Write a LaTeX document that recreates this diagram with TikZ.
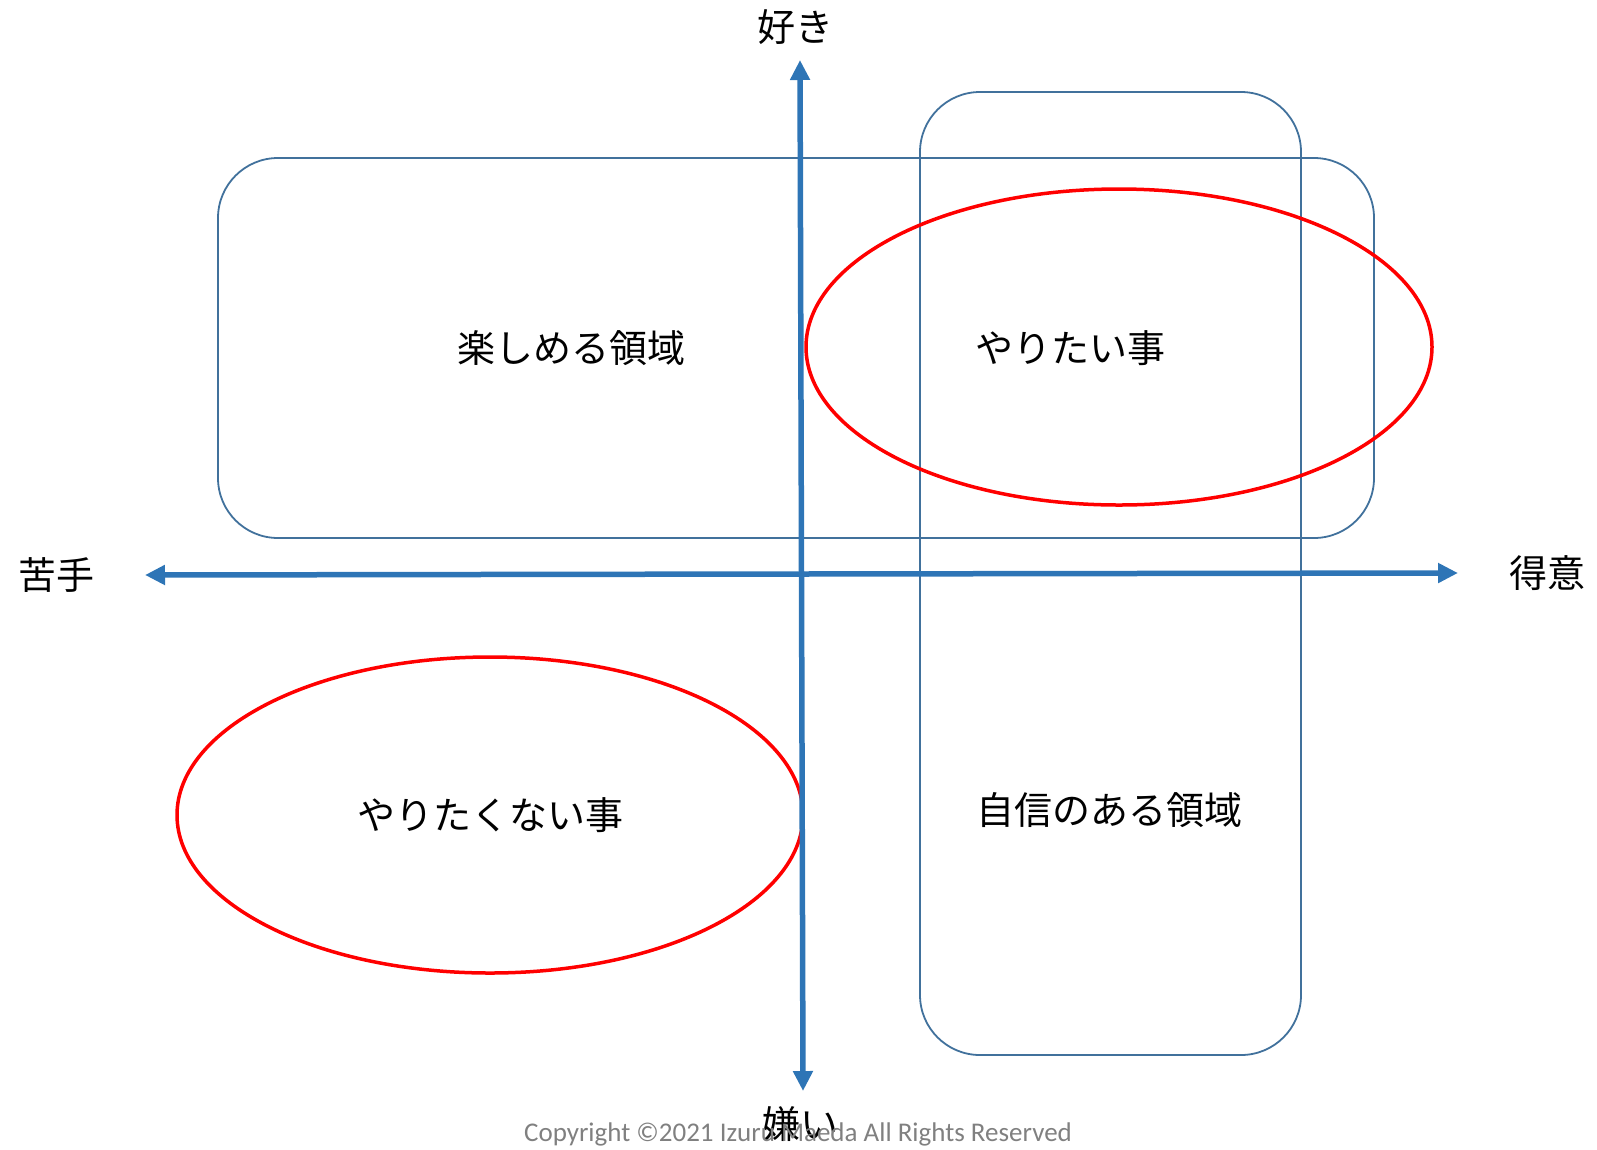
\documentclass[tikz,border=0pt]{standalone}
\usepackage{fontspec}
\setmainfont{Noto Sans CJK JP}
\newfontfamily\copyfont{Carlito}
\usepackage{tikz}
\usetikzlibrary{arrows.meta}
\definecolor{axisblue}{RGB}{46,117,182}
\definecolor{boxblue}{RGB}{65,113,156}
\tikzset{
  areabox/.style={draw=boxblue, line width=1.8pt, rounded corners=60pt},
  wishring/.style={draw=red, line width=3.5pt},
  axisline/.style={draw=axisblue, line width=5.5pt, {Triangle[length=20pt,width=19pt]}-{Triangle[length=20pt,width=19pt]}},
  bigtext/.style={font=\fontsize{38}{42}\selectfont, inner sep=0pt}
}

\begin{document}
\begin{tikzpicture}[x=1pt, y=-1pt]
  \useasboundingbox (0,0) rectangle (1597,1149);
  % areas
  \draw[areabox] (218,158) rectangle (1374,538);
  \draw[areabox] (920,92) rectangle (1301,1055);
  \draw[wishring] (1119,347) ellipse [x radius=313pt, y radius=158pt];
  \draw[wishring] (490,815) ellipse [x radius=313pt, y radius=158pt];
  % axes
  \coordinate (top) at (800,60);
  \coordinate (bottom) at (803,1091);
  \coordinate (left) at (145,575);
  \coordinate (right) at (1458,573);
  \draw[axisline] (bottom) -- (top);
  \draw[axisline] (left) -- (right);
  \node[bigtext] (like) at (795,27) {好き};
  \node[bigtext] (dislike) at (800,1124) {嫌い};
  \node[bigtext] (weak) at (56,575) {苦手};
  \node[bigtext] (strong) at (1547,573) {得意};
  % labels
  \node[bigtext] (fun) at (571,348) {楽しめる領域};
  \node[bigtext] (want) at (1070,348) {やりたい事};
  \node[bigtext] (notwant) at (490,815) {やりたくない事};
  \node[bigtext] (conf) at (1109,810) {自信のある領域};
  \node[font=\copyfont\fontsize{27}{30}\selectfont, text=black!50, inner sep=0pt] (copy) at (798,1134) {Copyright ©2021 Izuru Maeda All Rights Reserved};
\end{tikzpicture}
\end{document}
